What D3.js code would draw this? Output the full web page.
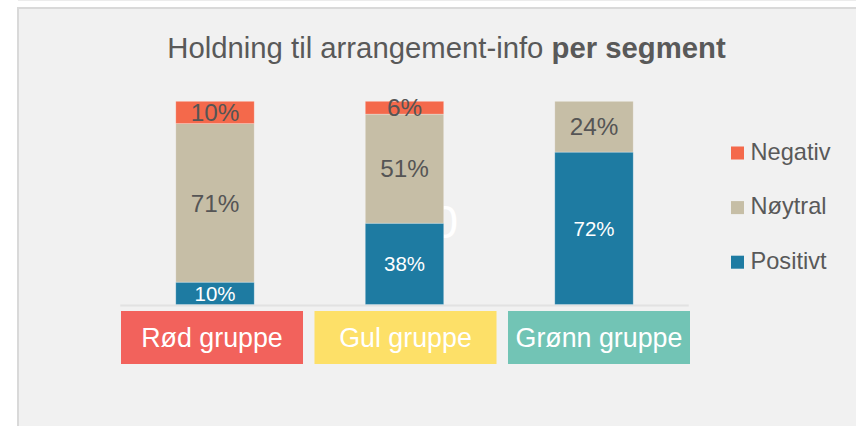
<!DOCTYPE html>
<html>
<head>
<meta charset="utf-8">
<script src="https://cdn.jsdelivr.net/npm/d3@7"></script>
<style>
  html, body { margin: 0; padding: 0; background: #ffffff; }
  svg { display: block; font-family: "Liberation Sans", Arial, Helvetica, sans-serif; }
</style>
</head>
<body>
<svg id="chart" width="856" height="426"></svg>
<script>
// Segments and answer shares (percent)
const categories = ["Rød gruppe", "Gul gruppe", "Grønn gruppe"];
const positive = [10, 38, 72];
const neutral = [71, 51, 24];
const negative = [10, 6, 0];
const seriesNames = ["Positivt", "Nøytral", "Negativ"];
const seriesColors = ["#1e7ba2", "#c6bea6", "#f4694b"];
const categoryColors = ["#f2625c", "#fde068", "#72c4b5"];
const legendOrder = ["Negativ", "Nøytral", "Positivt"];

const svg = d3.select("#chart");
const W = 856, H = 426;

// Panel background with border on top and left
svg.append("rect").attr("x", 0).attr("y", 0).attr("width", W).attr("height", H).attr("fill", "#ffffff");
svg.append("line").attr("x1", 18).attr("x2", W).attr("y1", 0.5).attr("y2", 0.5)
  .attr("stroke", "#ececec").attr("stroke-width", 1);
svg.append("rect").attr("x", 17).attr("y", 7).attr("width", W - 17).attr("height", H - 7).attr("fill", "#d9d9d9");
svg.append("rect").attr("x", 19).attr("y", 9).attr("width", W - 19).attr("height", H - 9).attr("fill", "#f1f1f1");

// Title
const title = svg.append("text")
  .attr("x", 446.5).attr("y", 57.5)
  .attr("text-anchor", "middle")
  .attr("font-size", 29.3)
  .attr("fill", "#595959");
title.append("tspan").text("Holdning til arrangement-info ");
title.append("tspan").attr("font-weight", "bold").text("per segment");

// Table for stacking
const rows = categories.map((c, i) => ({
  category: c,
  "Positivt": positive[i],
  "Nøytral": neutral[i],
  "Negativ": negative[i]
}));

const stack = d3.stack().keys(seriesNames).offset(d3.stackOffsetExpand);
const stacked = stack(rows);

const x = d3.scaleBand()
  .domain(categories)
  .range([120.25, 688.75])
  .paddingInner(0.586)
  .paddingOuter(0.293);

const y = d3.scaleLinear().domain([0, 1]).range([304.5, 101.3]);

const color = d3.scaleOrdinal().domain(seriesNames).range(seriesColors);

// Stray label glyph sitting behind the middle bar
svg.append("text")
  .attr("x", 445).attr("y", 238)
  .attr("text-anchor", "middle")
  .attr("font-size", 47)
  .attr("fill", "#ffffff")
  .text("0");

// Baseline
svg.append("line")
  .attr("x1", x.range()[0]).attr("x2", x.range()[1])
  .attr("y1", 305.5).attr("y2", 305.5)
  .attr("stroke", "#e2e2e2").attr("stroke-width", 2);

// Bars
const layers = svg.append("g").selectAll("g")
  .data(stacked)
  .join("g")
  .attr("fill", d => color(d.key));

layers.selectAll("rect")
  .data(d => d.map(s => ({ key: d.key, s })))
  .join("rect")
  .attr("x", d => x(d.s.data.category))
  .attr("width", x.bandwidth())
  .attr("y", d => y(d.s[1]))
  .attr("height", d => y(d.s[0]) - y(d.s[1]))
  .attr("stroke", "rgba(255,255,255,0.35)")
  .attr("stroke-width", 0.8);

// Value labels
const labels = [];
stacked.forEach(layer => {
  layer.forEach(s => {
    const v = s.data[layer.key];
    if (v > 0) labels.push({ key: layer.key, s, v });
  });
});

svg.append("g").selectAll("text")
  .data(labels)
  .join("text")
  .attr("x", d => x(d.s.data.category) + x.bandwidth() / 2)
  .attr("y", d => (y(d.s[0]) + y(d.s[1])) / 2)
  .attr("dy", "0.36em")
  .attr("text-anchor", "middle")
  .attr("font-size", d => d.key === "Positivt" ? 20.5 : 24.3)
  .attr("fill", d => d.key === "Positivt" ? "#ffffff" : "#555555")
  .text(d => d.v + "%");

// Category boxes
const xb = d3.scaleBand()
  .domain(categories)
  .range([121, 690])
  .paddingInner(0.0594)
  .paddingOuter(0);

const boxes = svg.append("g").selectAll("g")
  .data(categories)
  .join("g");

boxes.append("rect")
  .attr("x", d => xb(d))
  .attr("y", 311)
  .attr("width", xb.bandwidth())
  .attr("height", 53)
  .attr("fill", (d, i) => categoryColors[i]);

boxes.append("text")
  .attr("x", d => xb(d) + xb.bandwidth() / 2)
  .attr("y", 337.5)
  .attr("dy", "0.36em")
  .attr("text-anchor", "middle")
  .attr("font-size", 26.8)
  .attr("fill", "#ffffff")
  .text(d => d);

// Legend
const legend = svg.append("g").selectAll("g")
  .data(legendOrder)
  .join("g")
  .attr("transform", (d, i) => `translate(731, ${146.5 + i * 54.6})`);

legend.append("rect")
  .attr("width", 13).attr("height", 13)
  .attr("fill", d => color(d));

legend.append("text")
  .attr("x", 19.5).attr("y", 13)
  .attr("font-size", 23.6)
  .attr("fill", "#595959")
  .text(d => d);
</script>
</body>
</html>
